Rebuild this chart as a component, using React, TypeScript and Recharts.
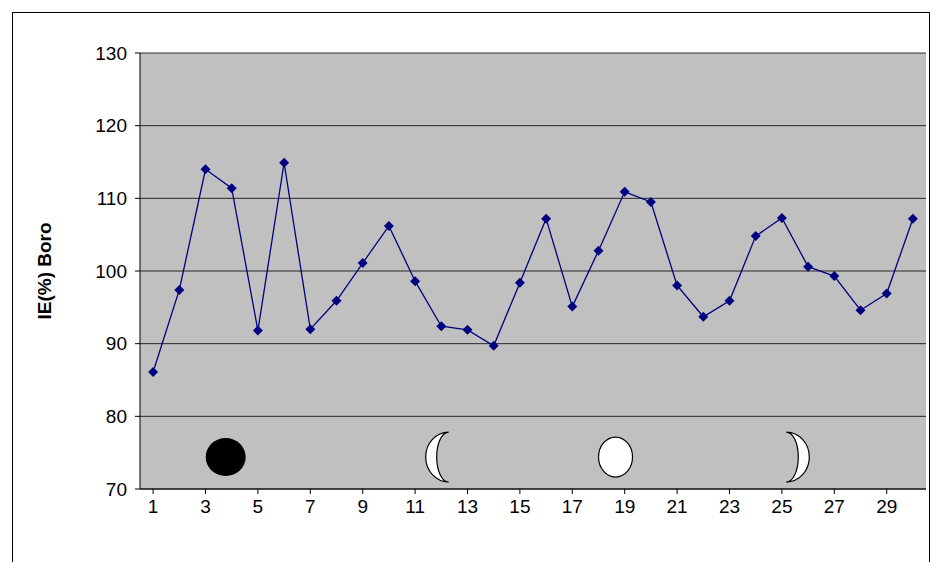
import { LineChart, Line, XAxis, YAxis, CartesianGrid, ReferenceDot, Label } from "recharts";

const days = Array.from({ length: 30 }, (_, i) => i + 1);
const boro = [
  86.1, 97.4, 114.0, 111.4, 91.8, 114.9, 92.0, 95.9, 101.1, 106.2,
  98.6, 92.4, 91.9, 89.7, 98.4, 107.2, 95.1, 102.8, 110.9, 109.5,
  98.0, 93.7, 95.9, 104.8, 107.3, 100.6, 99.3, 94.6, 96.9, 107.2,
];
const yTicks = [70, 80, 90, 100, 110, 120, 130];
// moon phases: [day, offset in categories, kind]
const moons: [number, number, string][] = [
  [4, -0.23, "new"],
  [12, -0.1, "first"],
  [19, -0.35, "full"],
  [26, -0.45, "last"],
];

const data = days.map((d, i) => ({ day: d, value: boro[i] }));
const STEP = 786 / 30;

function Diamond(props: any) {
  const { cx, cy } = props;
  if (cx == null || cy == null) return null;
  return <path d={`M${cx},${cy - 5}L${cx + 5},${cy}L${cx},${cy + 5}L${cx - 5},${cy}Z`} fill="#000080" />;
}

function Moon(kind: string, offset: number) {
  return (props: any) => {
    const cx = props.cx + offset * STEP;
    const cy = props.cy;
    if (kind === "new") return <ellipse cx={cx} cy={cy} rx={20} ry={19} fill="#000" />;
    if (kind === "full")
      return <ellipse cx={cx} cy={cy} rx={17} ry={20} fill="#fff" stroke="#000" strokeWidth={1.2} />;
    if (kind === "first")
      return (
        <path
          d={`M${cx + 10},${cy - 25} A23,25 0 0 0 ${cx + 10},${cy + 25} A12,25 0 0 1 ${cx + 10},${cy - 25}Z`}
          fill="#fff" stroke="#000" strokeWidth={1.2}
        />
      );
    return (
      <path
        d={`M${cx - 10},${cy - 25} A23,25 0 0 1 ${cx - 10},${cy + 25} A12,25 0 0 0 ${cx - 10},${cy - 25}Z`}
        fill="#fff" stroke="#000" strokeWidth={1.2}
      />
    );
  };
}

export default function App() {
  return (
    <div style={{ position: "absolute", left: 0, top: 0, width: 930, height: 562, background: "#fff", fontFamily: "Liberation Sans, Arial, sans-serif" }}>
      <div style={{ position: "absolute", left: 12, top: 12, width: 916, height: 560, borderLeft: "1px solid #000", borderTop: "1px solid #000", borderRight: "1px solid #000" }} />
      <div style={{ position: "absolute", left: 0, top: 0 }}>
        <LineChart width={930} height={562} data={data} margin={{ top: 53, right: 4, bottom: 43, left: 20 }}>
          <CartesianGrid vertical={false} fill="#c0c0c0" stroke="#000" strokeOpacity={0.8} />
          <XAxis
            dataKey="day"
            interval={1}
            height={30}
            stroke="#000"
            padding={{ left: STEP / 2, right: STEP / 2 }}
            tick={{ fill: "#000", fontSize: 19 }}
            tickLine={{ stroke: "#000" }}
            tickSize={5}
            tickMargin={6}
          />
          <YAxis
            domain={[70, 130]}
            ticks={yTicks}
            width={120}
            stroke="#000"
            tick={{ fill: "#000", fontSize: 19 }}
            tickSize={5}
            tickMargin={8}
          >
            <Label value="IE(%) Boro" angle={-90} position="insideLeft" offset={24} style={{ fill: "#000", fontSize: 19, fontWeight: "bold", textAnchor: "middle" }} />
          </YAxis>
          <Line
            type="linear"
            dataKey="value"
            stroke="#000080"
            strokeWidth={1.3}
            dot={<Diamond />}
            activeDot={false}
            isAnimationActive={false}
          />
          {moons.map(([d, off, kind]) => (
            <ReferenceDot key={kind} x={d} y={74.4} r={0} shape={Moon(kind, off)} ifOverflow="visible" />
          ))}
        </LineChart>
      </div>
    </div>
  );
}
